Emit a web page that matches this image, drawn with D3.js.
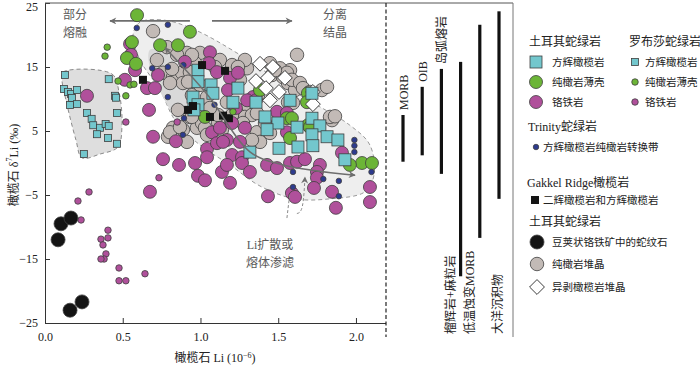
<!DOCTYPE html>
<html lang="zh">
<head>
<meta charset="utf-8">
<title>橄榄石 Li 与 δ7Li</title>
<script src="https://cdn.jsdelivr.net/npm/d3@7"></script>
<style>
body { margin: 0; background: #fff; }
text { font-family: "Liberation Serif", "Noto Sans CJK SC", serif; }
</style>
</head>
<body>
<script>
// ---- data: [Li (10^-6), δ7Li (‰)] ----
var turkeyHarz = [[0.984,14.5],[0.984,12.7],[1.068,12.2],[1.08,10.9],[0.952,10.3],[1.241,11.7],[1.209,9.5],
  [1.357,9.5],[1.576,9.8],[1.717,10.9],[0.984,9.1],[1.415,7.2],[1.498,6.25],[1.428,5.2],[1.621,5.6],[1.717,7.0],
  [1.768,5.8],[1.717,4.4],[1.814,4.1],[1.884,3.6],[1.723,2.7],[1.627,2.5],[1.505,2.3],[1.318,1.7],[1.929,0.5],[0.958,8.3]];
var turkeyDunite = [[0.592,23.1],[0.932,20.5],[0.559,18.9],[0.74,18.4],[0.855,18.4],[0.527,16.4],[0.585,15.5],
  [1.029,7.2],[1.691,10.9],[1.556,7.0],[1.588,7.0],[1.691,5.9],[1.576,3.9],[2.039,0.0],[2.103,0.0],[1.961,-0.3],
  [1.685,9.5],[1.383,11.4],[1.704,5.6]];
var turkeyChrom = [[0.547,18.6],[0.553,16.9],[0.579,14.5],[0.514,13.0],[0.27,10.5],[0.656,11.7],[0.707,11.7],
  [0.727,13.75],[0.669,8.3],[0.695,4.1],[0.842,3.4],[0.759,0.6],[0.862,-0.3],[0.965,0.0],[0.90,15.8],[1.061,17.3],
  [1.055,15.6],[1.106,14.2],[1.19,13.3],[1.241,14.1],[1.177,11.4],[1.338,10.3],[1.357,9.8],[1.492,8.0],[1.286,5.5],
  [1.17,3.6],[1.074,4.8],[1.125,5.5],[1.203,6.25],[1.042,2.2],[1.042,0.9],[1.106,3.1],[1.145,3.3],[1.254,3.3],
  [1.203,1.25],[1.267,0.9],[1.138,-1.4],[1.17,-0.3],[1.267,0.0],[0.984,-2.0],[1.029,-2.7],[1.19,-3.1],[1.318,-1.4],
  [0.675,-4.5],[1.556,4.8],[1.428,-0.3],[1.492,-0.8],[1.576,0.0],[1.621,0.2],[1.672,0.6],[1.768,-0.3],[1.749,-1.4],
  [1.749,-2.3],[1.91,1.6],[1.846,-4.5],[1.73,-3.9],[1.588,-4.7],[1.608,-5.3],[1.434,-5.2],[2.09,-3.75],[2.09,-6.1],
  [1.871,-7.0],[1.556,7.8],[1.3,9.8],[1.228,8.6]];
var luobusaHarz = [[0.129,13.75],[0.122,11.56],[0.148,11.1],[0.167,10.8],[0.206,11.4],[0.174,10.16],[0.161,9.06],
  [0.206,9.2],[0.41,13.1],[0.45,10.5],[0.457,10.2],[0.463,7.8],[0.27,7.8],[0.30,6.9],[0.31,5.9],[0.354,5.5],
  [0.334,4.5],[0.39,6.1],[0.41,5.8],[0.405,3.9],[0.463,3.0],[0.25,1.4]];
var luobusaDunite = [[0.40,18.1],[0.386,16.7],[0.47,12.8],[0.52,10.5],[0.547,12.2],[0.572,12.3],[1.209,8.0]];
var luobusaChrom = [[0.212,-5.94],[0.283,-4.53],[0.232,-8.9],[0.405,-10.5],[0.405,-11.7],[0.36,-11.9],[0.373,-12.8],
  [0.392,-14.2],[0.38,-15.0],[0.36,-15.0],[0.476,-16.4],[0.476,-18.4],[0.52,-18.4],[0.643,-17.3],[0.52,6.4],
  [0.733,-2.3],[0.85,6.4]];
var trinity = [[0.59,21.1],[0.79,21.6],[0.69,14.8],[0.79,15.0],[0.79,10.3],[0.89,15.3],[0.894,7.0],[0.887,4.4],
  [1.09,9.1],[1.99,3.6],[1.99,2.7],[1.99,1.7],[1.595,-1.4],[1.79,-2.5],[1.89,-2.8],[2.10,-1.4],[1.89,-5.2],[1.595,-3.75]];
var gakkel = [[0.63,13.0],[1.01,15.3],[1.158,14.4],[0.92,8.3],[0.952,8.9],[1.061,7.2],[1.145,7.4],[1.183,7.0]];
var serpentine = [[0.103,-9.5],[0.167,-8.6],[0.084,-12.0],[0.238,-21.7],[0.161,-23.0]];
var duniteCum = [[0.695,20.6],[0.785,18.1],[0.72,16.1],[0.913,17.2],[0.997,17.2],[0.759,14.1],[0.823,13.4],
  [0.881,14.1],[0.965,15.6],[0.887,12.5],[1.125,16.1],[1.203,15.3],[1.299,14.8],[1.286,16.1],[0.855,8.3],[1.042,10.3],
  [1.286,8.3],[1.235,7.8],[1.17,9.5],[0.849,16.9],[0.817,14.7],[0.932,14.2],[0.804,12.5],[0.92,12.7],[0.945,10.6],
  [0.823,5.5],[0.887,5.2],[0.791,4.1],[0.977,5.5],[1.01,6.25],[1.113,6.4],[1.138,5.2],[1.286,7.2],[1.254,13.0],
  [0.804,4.8],[0.913,3.3],[0.932,7.2],[1.331,7.5],[1.363,7.8],[0.945,16.9],[1.241,15.0],[1.093,15.0],[0.868,5.6],
  [0.945,7.2],[1.029,5.5],[1.042,4.4],[1.363,4.8],[1.383,3.3],[1.46,13.75],[1.531,13.4],[1.563,12.5],[1.608,11.4],
  [1.576,14.5],[1.621,16.9],[1.846,6.7],[1.331,3.6],[1.37,10.6],[1.273,6.25],[1.203,7.5],[1.113,7.5],[1.415,6.25],
  [1.511,14.8],[1.556,14.1],[1.588,13.0],[1.64,12.5],[1.659,11.7],[1.704,11.1],[1.781,11.4],[1.814,11.9],[1.833,7.2],
  [1.865,7.3],[1.563,9.5],[1.595,9.4],[1.447,15.6],[1.479,14.5],[1.447,4.7],[0.997,12.2],[1.061,8.6]];
var wehrliteCum = [[1.383,15.5],[1.466,15.0],[1.543,13.3],[1.357,12.8],[1.434,13.3],[1.421,11.7],[1.505,11.1],
  [1.447,9.8],[1.723,11.1],[1.723,9.2]];

// reference ranges (right panel)
var refNames = ["MORB", "OIB", "岛弧熔岩", "榴辉岩+麻粒岩", "低温蚀变MORB", "大洋沉积物"];
var refMin = [0.2, 1.2, -1.7, -17.7, -11.7, -5.6];
var refMax = [7.5, 11.9, 14.7, 15.8, 21.6, 23.7];

// shaded fields and trend arrows, in data units
var luobusaField = [[0.116,14.2],[0.431,13.9],[0.476,11.1],[0.495,5.9],[0.469,2.5],[0.354,1.4],[0.238,0.8],
  [0.199,3.6],[0.135,9.8],[0.109,13.0]];
var turkeyField = [[0.611,22.0],[0.772,22.3],[0.965,20.8],[1.254,16.9],[1.64,10.6],[1.961,5.9],[2.09,2.8],
  [2.116,-1.9],[2.058,-4.5],[1.833,-5.6],[1.608,-5.6],[1.383,-3.6],[1.19,-0.3],[0.997,2.8],[0.836,6.7],[0.74,11.4],
  [0.611,16.1],[0.566,20.0]];
var innerField = [[0.675,17.7],[0.772,17.3],[0.965,10.6],[1.074,5.9],[0.997,4.4],[0.868,6.4],[0.752,10.6],[0.675,14.8]];
var trendArrow = [[0.772,18.0],[1.05,10.5],[1.318,1.75],[1.531,-0.3],[1.994,-1.9]];
var meltArrow = [[0.932,22.2],[0.418,22.2]];
var crystArrow = [[1.074,22.2],[1.588,22.2]];
var diffusionLine = [[1.556,-8.6],[1.574,-4.9]];
var diffusionArrow = [[1.62,-7.9],[1.66,-7.6],[1.672,-2.2]];

var w = 700, h = 370;
var C = {cyan: "#73c7cd", green: "#6cb537", purple: "#b0509b", gray: "#c2bab6", blue: "#2d3b8e",
  black: "#141414", edge: "#3f3f3f", note: "#5a5a5a"};

var svg = d3.select("body").append("svg").attr("width", w).attr("height", h);

var x = d3.scaleLinear().domain([0, 2.19]).range([45, 385.5]);
var y = d3.scaleLinear().domain([-25, 25]).range([323, 3]);

var defs = svg.append("defs");
defs.append("marker").attr("id", "head").attr("viewBox", "0 0 10 10")
  .attr("refX", 9).attr("refY", 5).attr("markerWidth", 9).attr("markerHeight", 7)
  .attr("markerUnits", "userSpaceOnUse").attr("orient", "auto-start-reverse")
  .append("path").attr("d", "M0,0 L10,5 L0,10 L3,5 Z").attr("fill", "#6e6e6e");

// shaded fields
var fieldLine = d3.line().x(d => x(d[0])).y(d => y(d[1])).curve(d3.curveCatmullRomClosed);
svg.append("path").attr("d", fieldLine(turkeyField)).attr("fill", "#eeeeee")
  .attr("stroke", "#9a9a9a").attr("stroke-dasharray", "4,3");
svg.append("path").attr("d", fieldLine(innerField)).attr("fill", "#d9d9d9");
svg.append("path").attr("d", fieldLine(luobusaField)).attr("fill", "#dedede")
  .attr("stroke", "#8a8a8a").attr("stroke-dasharray", "4,3");

// axes
var xAxis = d3.axisBottom(x).tickValues([0, 0.5, 1, 1.5, 2]).tickFormat(d3.format(".1f"))
  .tickSizeInner(-5).tickSizeOuter(0).tickPadding(9);
var yAxis = d3.axisLeft(y).tickValues([-25, -15, -5, 5, 15, 25])
  .tickSizeInner(-5).tickSizeOuter(0).tickPadding(7);
svg.append("g").attr("transform", "translate(0,323)").call(xAxis);
var gy = svg.append("g").attr("transform", "translate(45,0)").call(yAxis);
gy.selectAll(".tick text").filter(d => d === 25).attr("y", 4);
svg.selectAll(".tick text").attr("font-size", 12).attr("fill", "#222")
  .style("font-family", "Liberation Serif");
svg.selectAll(".domain, .tick line").attr("stroke", "#333");

// frame
svg.append("line").attr("x1", 45).attr("x2", 513).attr("y1", 3).attr("y2", 3).attr("stroke", "#555");
svg.append("line").attr("x1", 386).attr("x2", 386).attr("y1", 3).attr("y2", 337)
  .attr("stroke", "#222").attr("stroke-dasharray", "4,2.5").attr("stroke-width", 1.2);
svg.append("line").attr("x1", 513).attr("x2", 513).attr("y1", 3).attr("y2", 337).attr("stroke", "#777");

// axis titles
svg.append("text").attr("transform", "translate(14,165) rotate(-90)")
  .attr("text-anchor", "middle").attr("dominant-baseline", "central").attr("font-size", 12).attr("fill", "#222")
  .call(t => {
    t.append("tspan").text("橄榄石 δ");
    t.append("tspan").attr("baseline-shift", "super").attr("font-size", 8).text("7");
    t.append("tspan").text("Li (‰)");
  });
svg.append("text").attr("x", 215).attr("y", 362).attr("text-anchor", "middle")
  .attr("font-size", 12).attr("fill", "#222")
  .call(t => {
    t.append("tspan").text("橄榄石 Li (10");
    t.append("tspan").attr("baseline-shift", "super").attr("font-size", 8).text("−6");
    t.append("tspan").text(")");
  });

// trend arrows
var plain = d3.line().x(d => x(d[0])).y(d => y(d[1]));
[meltArrow, crystArrow].forEach(function(a) {
  svg.append("path").attr("d", plain(a)).attr("stroke", "#6e6e6e").attr("stroke-width", 1.6)
    .attr("fill", "none").attr("marker-end", "url(#head)");
});

// marks
function drawSymbol(g, st, cx, cy) {
  if (st.shape === "circle") {
    g.append("circle").attr("cx", cx).attr("cy", cy).attr("r", st.size / 2)
      .attr("fill", st.fill).attr("stroke", C.edge).attr("stroke-width", 0.8);
  } else if (st.shape === "square") {
    g.append("rect").attr("x", cx - st.size / 2).attr("y", cy - st.size / 2)
      .attr("width", st.size).attr("height", st.size)
      .attr("fill", st.fill).attr("stroke", st.fill === C.black ? "none" : C.edge).attr("stroke-width", 0.8);
  } else {
    g.append("path").attr("d", d3.symbol(d3.symbolSquare, st.size * st.size)())
      .attr("transform", "translate(" + cx + "," + cy + ") rotate(45)")
      .attr("fill", "#fff").attr("stroke", "#333").attr("stroke-width", 0.9);
  }
}
var ST = {
  duniteCum: {shape: "circle", size: 13.5, fill: C.gray},
  turkeyChrom: {shape: "circle", size: 13, fill: C.purple},
  turkeyDunite: {shape: "circle", size: 13, fill: C.green},
  wehrliteCum: {shape: "diamond", size: 10.5},
  turkeyHarz: {shape: "square", size: 12, fill: C.cyan},
  gakkel: {shape: "square", size: 8, fill: C.black},
  luobusaHarz: {shape: "square", size: 7, fill: C.cyan},
  luobusaDunite: {shape: "circle", size: 6.5, fill: C.green},
  luobusaChrom: {shape: "circle", size: 6.5, fill: C.purple},
  trinity: {shape: "circle", size: 5.5, fill: C.blue},
  serpentine: {shape: "circle", size: 14, fill: C.black}
};
function drawMarks(data, st) {
  var g = svg.append("g");
  data.forEach(d => drawSymbol(g, st, x(d[0]), y(d[1])));
}
drawMarks(duniteCum, ST.duniteCum);
drawMarks(turkeyChrom, ST.turkeyChrom);
drawMarks(turkeyDunite, ST.turkeyDunite);
drawMarks(wehrliteCum, ST.wehrliteCum);
drawMarks(turkeyHarz, ST.turkeyHarz);
drawMarks(gakkel, ST.gakkel);
drawMarks(luobusaHarz, ST.luobusaHarz);
drawMarks(luobusaDunite, ST.luobusaDunite);
drawMarks(luobusaChrom, ST.luobusaChrom);
drawMarks(trinity, ST.trinity);
drawMarks(serpentine, ST.serpentine);

// curved trend arrow over the points
svg.append("path").attr("d", d3.line().x(d => x(d[0])).y(d => y(d[1])).curve(d3.curveCatmullRom)(trendArrow))
  .attr("stroke", "#6e6e6e").attr("stroke-width", 1.5).attr("fill", "none")
  .attr("marker-start", "url(#head)").attr("marker-end", "url(#head)");
svg.append("path").attr("d", plain(diffusionLine)).attr("stroke", "#8a8a8a").attr("stroke-dasharray", "3,2")
  .attr("fill", "none");
svg.append("path").attr("d", d3.line().x(d => x(d[0])).y(d => y(d[1])).curve(d3.curveBasis)(diffusionArrow))
  .attr("stroke", "#8a8a8a").attr("stroke-dasharray", "3,2").attr("fill", "none").attr("marker-end", "url(#head)");

// annotations
function note(xp, yp, t) {
  svg.append("text").attr("x", xp).attr("y", yp).attr("text-anchor", "middle").attr("dominant-baseline", "central")
    .attr("font-size", 12).attr("fill", C.note).text(t);
}
note(75, 15, "部分"); note(75, 33, "熔融");
note(335, 15, "分离"); note(335, 33, "结晶");
note(270, 245, "Li扩散或"); note(270, 263, "熔体渗滤");

// right panel: reference ranges
var xr = d3.scalePoint().domain(refNames).range([403, 499]);
svg.append("g").selectAll("line").data(refNames).join("line")
  .attr("x1", d => xr(d)).attr("x2", d => xr(d))
  .attr("y1", (d, i) => y(refMax[i])).attr("y2", (d, i) => y(refMin[i]))
  .attr("stroke", "#111").attr("stroke-width", 3.2);
svg.append("g").selectAll("text").data(refNames).join("text")
  .attr("transform", function(d, i) {
    if (i < 3) return "translate(" + (xr(d) + 1) + "," + (y(refMax[i]) - 5) + ") rotate(-90)";
    var dx = refMin[i] < -8 ? -10 : -1;
    return "translate(" + (xr(d) + dx) + ",334) rotate(-90)";
  })
  .attr("dominant-baseline", "central").attr("font-size", 12).attr("fill", "#222").text(d => d);

// legend
var lg = svg.append("g");
function legText(xp, yp, t, size) {
  lg.append("text").attr("x", xp).attr("y", yp).attr("dominant-baseline", "central")
    .attr("font-size", size).attr("fill", "#222").text(t);
}
legText(529, 42, "土耳其蛇绿岩", 12); legText(629, 42, "罗布莎蛇绿岩", 12);
drawSymbol(lg, ST.turkeyHarz, 536, 62); legText(552, 62, "方辉橄榄岩", 10.5);
drawSymbol(lg, ST.turkeyDunite, 536, 82); legText(552, 82, "纯橄岩薄壳", 10.5);
drawSymbol(lg, ST.turkeyChrom, 536, 102); legText(552, 102, "铬铁岩", 10.5);
drawSymbol(lg, ST.luobusaHarz, 635, 62); legText(645, 62, "方辉橄榄岩", 10.5);
drawSymbol(lg, ST.luobusaDunite, 635, 82); legText(645, 82, "纯橄岩薄壳", 10.5);
drawSymbol(lg, ST.luobusaChrom, 635, 102); legText(645, 102, "铬铁岩", 10.5);
legText(528, 127, "Trinity蛇绿岩", 12);
drawSymbol(lg, ST.trinity, 536, 147); legText(543, 147, "方辉橄榄岩纯橄岩转换带", 10.5);
legText(527, 183, "Gakkel Ridge橄榄岩", 12);
drawSymbol(lg, ST.gakkel, 535, 200); legText(543, 200, "二辉橄榄岩和方辉橄榄岩", 10.5);
legText(529, 222, "土耳其蛇绿岩", 12);
drawSymbol(lg, ST.serpentine, 537, 242); legText(552, 242, "豆荚状铬铁矿中的蛇纹石", 10.5);
drawSymbol(lg, ST.duniteCum, 537, 264); legText(552, 264, "纯橄岩堆晶", 10.5);
drawSymbol(lg, ST.wehrliteCum, 537, 287); legText(552, 287, "异剥橄榄岩堆晶", 10.5);
</script>
</body>
</html>
